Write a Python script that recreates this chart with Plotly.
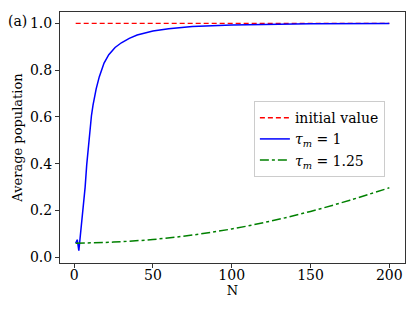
import plotly.graph_objects as go

N_blue = [1, 2, 3, 4, 5, 6, 7, 8, 9, 10, 11, 12, 14, 16, 19, 22, 26, 30, 35, 40, 50, 60, 75, 100, 150, 200]
pop_blue = [0.060, 0.075, 0.028, 0.090, 0.150, 0.225, 0.300, 0.395, 0.470, 0.545, 0.605, 0.650, 0.720, 0.772, 0.830, 0.866, 0.897, 0.917, 0.936, 0.950, 0.967, 0.977, 0.986, 0.993, 0.998, 0.999]

N_green = [1, 25, 50, 75, 100, 125, 150, 175, 200]
pop_green = [0.060, 0.065, 0.076, 0.095, 0.121, 0.155, 0.196, 0.244, 0.297]

N_init = [1, 200]
pop_init = [1.0, 1.0]

x_ticks = [0, 50, 100, 150, 200]
y_ticks = [0.0, 0.2, 0.4, 0.6, 0.8, 1.0]

FONT = "DejaVu Serif, Liberation Serif, serif"

fig = go.Figure()
fig.add_trace(go.Scatter(x=N_init, y=pop_init, mode="lines", name="initial value", legendgroup="a",
                         line=dict(color="#ff0000", width=1.4, dash="5px,3px")))
fig.add_trace(go.Scatter(x=N_blue, y=pop_blue, mode="lines", name="<i>τ</i><sub><i>m</i></sub> = 1", legendgroup="b",
                         line=dict(color="#0000ff", width=1.5)))
fig.add_trace(go.Scatter(x=N_green, y=pop_green, mode="lines", name="<i>τ</i><sub><i>m</i></sub> = 1.25", legendgroup="c",
                         line=dict(color="#008000", width=1.5, dash="dashdot"), line_shape="spline"))

axis_common = dict(showline=True, linecolor="#333", linewidth=1, mirror=True,
                   ticks="outside", ticklen=4, tickcolor="#333", showgrid=False,
                   zeroline=False, automargin=False,
                   tickfont=dict(family=FONT, size=14, color="black"))

fig.update_xaxes(range=[-8.95, 209.95], tickvals=x_ticks, ticktext=[str(v) for v in x_ticks],
                 title=dict(text="N", font=dict(family=FONT, size=13, color="black"), standoff=0),
                 ticklabelstandoff=-5,
                 **axis_common)
fig.update_yaxes(range=[-0.0245, 1.0485], tickvals=y_ticks, ticktext=[f"{v:.1f}" for v in y_ticks],
                 title=dict(text="Average population", font=dict(family=FONT, size=13, color="black"), standoff=4),
                 **axis_common)

fig.update_layout(
    width=415, height=311,
    margin=dict(l=60, r=10, t=12, b=48),
    plot_bgcolor="white", paper_bgcolor="white",
    font=dict(family=FONT, color="black"),
    legend=dict(x=0.562, y=0.645, xanchor="left", yanchor="top",
                bgcolor="rgba(255,255,255,0.8)", bordercolor="#ccc", borderwidth=1,
                font=dict(family=FONT, size=14, color="black"), tracegroupgap=0,
                itemwidth=30),
    annotations=[dict(text="(a)", xref="paper", yref="paper", x=-0.157, y=1.005,
                      xanchor="left", yanchor="top", showarrow=False,
                      font=dict(family=FONT, size=14, color="black"))],
)

fig.write_html("out.html", config={"displayModeBar": False},
               post_script="document.body.style.margin='0';")
